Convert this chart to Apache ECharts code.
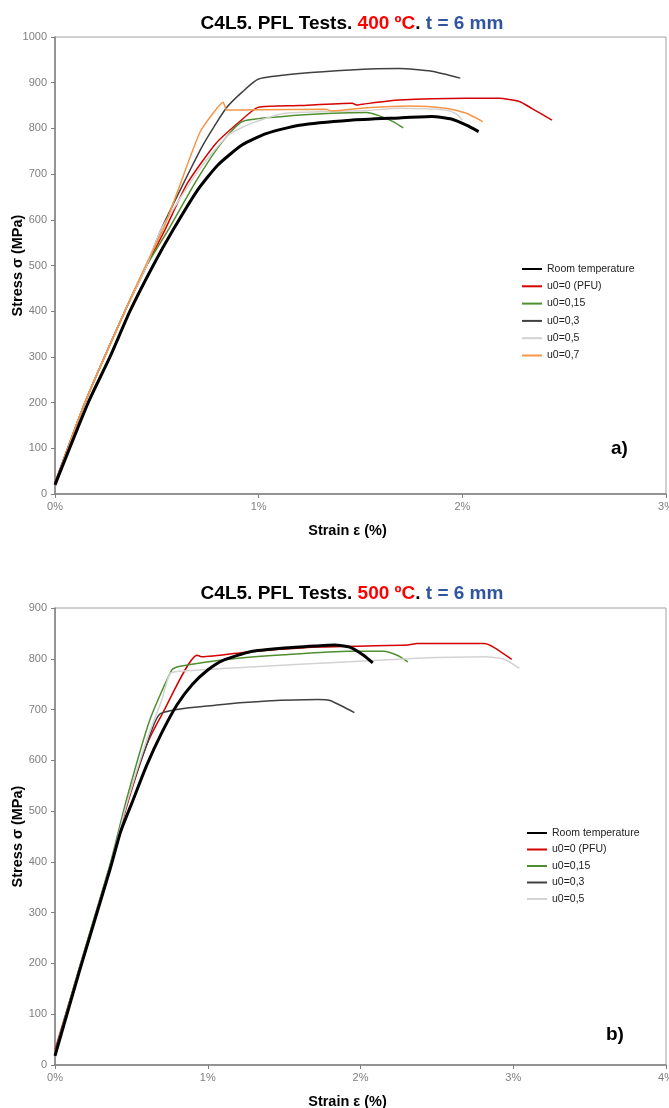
<!DOCTYPE html>
<html>
<head>
<meta charset="utf-8">
<script src="https://cdn.jsdelivr.net/npm/echarts@6/dist/echarts.min.js"></script>
<style>
html,body{margin:0;padding:0;background:#fff;}
#main{width:669px;height:1108px;}
</style>
</head>
<body>
<div id="main"></div>
<script>
// ---------- DATA ----------
const namesA = ['Room temperature', 'u0=0 (PFU)', 'u0=0,15', 'u0=0,3', 'u0=0,5', 'u0=0,7'];
const namesB = ['Room temperature', 'u0=0 (PFU)', 'u0=0,15', 'u0=0,3', 'u0=0,5'];
const xTicksA = [0, 1, 2, 3];
const xTicksB = [0, 1, 2, 3, 4];
const yTicksA = [0, 100, 200, 300, 400, 500, 600, 700, 800, 900, 1000];
const yTicksB = [0, 100, 200, 300, 400, 500, 600, 700, 800, 900];

// Chart a) 400 ºC  — [strain %, stress MPa]
const roomA = [[0,20],[0.163,200],[0.27,300],[0.368,400],[0.482,500],[0.58,578],[0.7,665],[0.8,720],[0.92,764],[1.04,789],[1.2,807],[1.45,818],[1.69,823],[1.85,826],[1.95,820],[2.02,807],[2.08,793]];
const pfuA = [[0,25],[0.147,200],[0.343,400],[0.45,500],[0.54,578],[0.65,680],[0.79,767],[0.907,815],[0.997,846],[1.2,850],[1.46,855],[1.48,851],[1.51,853],[1.69,862],[2.02,866],[2.18,866],[2.28,859],[2.34,844],[2.44,818]];
const u015A = [[0,22],[0.147,200],[0.343,400],[0.45,500],[0.556,578],[0.7,690],[0.82,770],[0.92,815],[1.12,826],[1.36,833],[1.53,835],[1.59,828],[1.66,815],[1.71,801]];
const u03A = [[0,20],[0.147,200],[0.343,400],[0.45,500],[0.52,578],[0.62,670],[0.727,764],[0.84,844],[0.92,880],[1.0,908],[1.2,920],[1.45,928],[1.69,931],[1.85,925],[1.99,910]];
const u05A = [[0,20],[0.147,200],[0.343,400],[0.45,500],[0.52,578],[0.7,705],[0.85,785],[0.97,812],[1.13,833],[1.53,839],[1.69,844],[1.92,840],[1.97,832],[2.0,818]];
const u07A = [[0,20],[0.147,200],[0.343,400],[0.45,505],[0.53,578],[0.6,660],[0.71,790],[0.776,833],[0.825,857],[0.845,840],[1.0,841],[1.33,842],[1.36,838],[1.53,845],[1.74,849],[1.92,844],[2.02,833],[2.1,815]];

// Chart b) 500 ºC
const roomB = [[0,18],[0.16,185],[0.36,385],[0.43,460],[0.51,521],[0.6,590],[0.7,655],[0.8,710],[0.9,750],[1.0,778],[1.1,797],[1.28,814],[1.5,821],[1.7,825],[1.83,827],[1.93,823],[2.02,807],[2.08,792]];
const pfuB = [[0,30],[0.16,190],[0.36,390],[0.47,510],[0.6,630],[0.7,690],[0.93,807],[0.96,804],[1.28,814],[1.72,823],[2.31,827],[2.37,830],[2.81,830],[2.87,823],[2.99,799]];
const u015B = [[0,25],[0.16,193],[0.36,395],[0.47,525],[0.62,679],[0.765,778],[0.81,785],[1.17,800],[1.5,808],[1.93,815],[2.15,815],[2.24,807],[2.31,794]];
const u03B = [[0,20],[0.16,190],[0.36,390],[0.47,515],[0.6,630],[0.69,692],[1.06,709],[1.39,717],[1.72,720],[1.8,718],[1.89,705],[1.96,694]];
const u05B = [[0,20],[0.16,190],[0.36,390],[0.47,515],[0.6,640],[0.7,720],[0.754,771],[0.84,776],[1.28,784],[1.93,794],[2.37,801],[2.81,804],[2.94,799],[3.04,781]];

const seriesA = [roomA, pfuA, u015A, u03A, u05A, u07A];
const seriesB = [roomB, pfuB, u015B, u03B, u05B];
const colors = ['#000000', '#d40000', '#4f8f2f', '#404040', '#d3d3d3', '#f79646'];
const widths = [3, 1.5, 1.5, 1.5, 1.5, 1.5];

// ---------- CHART ----------
const FONT = "'Liberation Sans', Arial, sans-serif";
const chart = echarts.init(document.getElementById('main'), null, {renderer: 'canvas'});

function titleText(temp) {
  return '{k|C4L5. PFL Tests. }{r|' + temp + '}{k|. }{b|t = 6 mm}';
}
const richTitle = {
  k: {color: '#000', fontWeight: 'bold', fontSize: 19, fontFamily: FONT},
  r: {color: '#ff0000', fontWeight: 'bold', fontSize: 19, fontFamily: FONT},
  b: {color: '#2f55a0', fontWeight: 'bold', fontSize: 19, fontFamily: FONT}
};

function xAxis(gridIndex, ticks) {
  return {
    type: 'value', gridIndex: gridIndex,
    min: ticks[0], max: ticks[ticks.length - 1], interval: 1,
    name: 'Strain ε (%)', nameLocation: 'middle', nameGap: 29,
    nameTextStyle: {fontFamily: FONT, fontWeight: 'bold', fontSize: 14.5, color: '#000', padding: [0, 26, 0, 0]},
    axisLine: {show: true, onZero: false, lineStyle: {color: '#808080', width: 1.5}},
    axisTick: {show: true, length: 4, lineStyle: {color: '#808080'}},
    axisLabel: {formatter: '{value}%', color: '#7f7f7f', fontSize: 11, fontFamily: FONT, margin: 7},
    splitLine: {show: false}
  };
}
function yAxis(gridIndex, ticks) {
  return {
    type: 'value', gridIndex: gridIndex,
    min: ticks[0], max: ticks[ticks.length - 1], interval: 100,
    name: 'Stress σ (MPa)', nameLocation: 'middle', nameGap: 30, nameMoveOverlap: false,
    nameTextStyle: {fontFamily: FONT, fontWeight: 'bold', fontSize: 14.5, color: '#000'},
    axisLine: {show: true, lineStyle: {color: '#808080', width: 1.5}},
    axisTick: {show: true, length: 4, lineStyle: {color: '#808080'}},
    axisLabel: {formatter: function (v) { return String(v); }, color: '#7f7f7f', fontSize: 11, fontFamily: FONT, margin: 8},
    splitLine: {show: false}
  };
}

const series = [];
function addSeries(list, names, axisIdx) {
  list.forEach(function (d, i) {
    series.push({
      name: names[i], type: 'line', xAxisIndex: axisIdx, yAxisIndex: axisIdx,
      data: d, symbol: 'none', smooth: 0.2, animation: false,
      lineStyle: {color: colors[i], width: widths[i]}, itemStyle: {color: colors[i]},
      z: i === 0 ? 3 : 2
    });
  });
}
addSeries(seriesA, namesA, 0);
addSeries(seriesB, namesB, 1);

const legendText = {fontFamily: FONT, fontSize: 10.5, color: '#222', lineHeight: 12};

chart.setOption({
  backgroundColor: '#fff',
  animation: false,
  title: [
    {text: titleText('400 ºC'), left: 347, top: 9, textAlign: 'center', textStyle: {rich: richTitle}},
    {text: titleText('500 ºC'), left: 347, top: 579, textAlign: 'center', textStyle: {rich: richTitle}}
  ],
  grid: [
    {left: 55, top: 37, width: 611, height: 457, containLabel: false, outerBoundsMode: 'none',
     show: true, borderColor: '#a0a0a0', borderWidth: 1},
    {left: 55, top: 608, width: 611, height: 457, containLabel: false, outerBoundsMode: 'none',
     show: true, borderColor: '#a0a0a0', borderWidth: 1}
  ],
  xAxis: [xAxis(0, xTicksA), xAxis(1, xTicksB)],
  yAxis: [yAxis(0, yTicksA), yAxis(1, yTicksB)],
  legend: [
    {data: namesA, orient: 'vertical', left: 521, top: 263, padding: 0, itemWidth: 20, itemHeight: 12, itemGap: 5.3,
     itemStyle: {opacity: 0}, textStyle: legendText, selectedMode: false},
    {data: namesB, orient: 'vertical', left: 526, top: 827, padding: 0, itemWidth: 20, itemHeight: 12, itemGap: 4.5,
     itemStyle: {opacity: 0}, textStyle: legendText, selectedMode: false}
  ],
  graphic: [
    {type: 'text', left: 611, top: 439, style: {text: 'a)', font: 'bold 19px ' + FONT, fill: '#000'}},
    {type: 'text', left: 606, top: 1025, style: {text: 'b)', font: 'bold 19px ' + FONT, fill: '#000'}}
  ],
  series: series
});
</script>
</body>
</html>
